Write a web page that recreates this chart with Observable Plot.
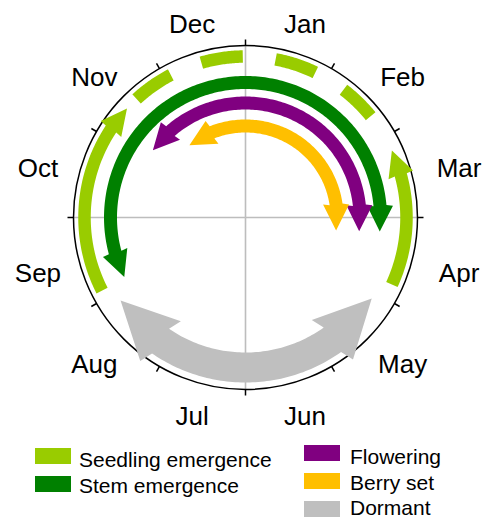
<!DOCTYPE html>
<html><head><meta charset="utf-8">
<script src="https://cdn.jsdelivr.net/npm/d3@7"></script>
<script src="https://cdn.jsdelivr.net/npm/@observablehq/plot@0.6"></script>
<style>
body{margin:0;background:#fff;font-family:"Liberation Sans",Arial,sans-serif;}
#wrap{position:relative;width:485px;height:521px;}
#chart{position:absolute;left:0;top:0;}
.col{position:absolute;}
.sw{width:36px;height:16px;margin-bottom:12px;}
.lab{font-size:21px;line-height:18px;height:25.5px;white-space:nowrap;color:#000;}
</style></head><body>
<div id="wrap"><div id="chart"></div>
<div class="col" id="swL" style="left:35px;top:448px"></div><div class="col" id="labL" style="left:79px;top:451px"></div>
<div class="col" id="swR" style="left:304px;top:445px"></div><div class="col" id="labR" style="left:350px;top:448px"></div>
</div>
<script>
// ---- data (month units: 0 = 1 Jan, 1 = 1 Feb, ... values > 12 continue into the next year) ----
const months = ["Jan","Feb","Mar","Apr","May","Jun","Jul","Aug","Sep","Oct","Nov","Dec"];
const phases = ["Seedling emergence","Stem emergence","Flowering","Berry set","Dormant"];
const phaseColors = ["#99cc00","#008000","#800080","#ffbf00","#bfbfbf"];
const legendLeft = ["Seedling emergence","Stem emergence"];
const legendRight = ["Flowering","Berry set","Dormant"];

const arrowPhase = ["Dormant","Seedling emergence","Seedling emergence","Stem emergence","Flowering","Berry set"];
const arrowStart = [4.09, 8.10, 3.82, 8.13, 10.20, 10.74];
const arrowEnd   = [7.88, 10.42, 2.18, 15.20, 15.23, 15.27];
const arrowBothHeads = [true, false, false, true, true, true];

const dashedPhase = ["Seedling emergence"];
const dashedStart = [10.58];
const dashedEnd = [13.70];

const gridMonths = [0, 3, 6, 9];

// ---- styling ----
const W = 485, H = 440, CX = 245, CY = 217;
const R = 172;
const LABEL_A = 218, LABEL_B = 203; // label ellipse semi-axes (px)
const ring = {"Seedling emergence": 161, "Stem emergence": 135, "Flowering": 114.5, "Berry set": 91.5, "Dormant": 150};
const bandW = {"Seedling emergence": 12.5, "Stem emergence": 13, "Flowering": 13, "Berry set": 13, "Dormant": 30};
const headW = {"Seedling emergence": 26, "Stem emergence": 26, "Flowering": 26, "Berry set": 26, "Dormant": 57};
const headL = {"Seedling emergence": 26, "Stem emergence": 26, "Flowering": 26, "Berry set": 26, "Dormant": 57};
const colorOf = Object.fromEntries(phases.map((p, i) => [p, phaseColors[i]]));

const deg = m => m * 30;
const rad = t => t * Math.PI / 180;
const P = (r, t) => [r * Math.sin(rad(t)), r * Math.cos(rad(t))];

function arrowPolygon(phase, m0, m1, both) {
  const r = ring[phase], w = bandW[phase], hw = headW[phase], hl = headL[phase];
  const t0 = deg(m0), t1 = deg(m1);
  const dir = Math.sign(t1 - t0);
  const dth = 2 * Math.asin(hl / (2 * r)) * 180 / Math.PI;
  const a0 = both ? t0 + dir * dth : t0;
  const a1 = t1 - dir * dth;
  const head = (tBack, tTip) => {
    const b = P(r, tBack), tip = P(r, tTip);
    let ux = tip[0] - b[0], uy = tip[1] - b[1];
    const L = Math.hypot(ux, uy); ux /= L; uy /= L;
    const nx = -uy, ny = ux;
    const c1 = [b[0] + nx * hw / 2, b[1] + ny * hw / 2];
    const c2 = [b[0] - nx * hw / 2, b[1] - ny * hw / 2];
    const outer = Math.hypot(...c1) > Math.hypot(...c2) ? c1 : c2;
    const inner = outer === c1 ? c2 : c1;
    return {tip, outer, inner};
  };
  const n = Math.max(2, Math.ceil(Math.abs(a1 - a0)));
  const pts = [];
  if (both) { const h = head(a0, t0); pts.push(h.inner, h.tip, h.outer); }
  for (let i = 0; i <= n; i++) pts.push(P(r + w / 2, a0 + (a1 - a0) * i / n));
  const he = head(a1, t1); pts.push(he.outer, he.tip, he.inner);
  for (let i = n; i >= 0; i--) pts.push(P(r - w / 2, a0 + (a1 - a0) * i / n));
  return pts.map(([x, y]) => ({x, y}));
}

const marks = [];
// grid lines
marks.push(Plot.link(gridMonths, {
  x1: () => 0, y1: () => 0,
  x2: m => P(R, deg(m))[0], y2: m => P(R, deg(m))[1],
  stroke: "#bdbdbd", strokeWidth: 1.6
}));
// outer circle
marks.push(Plot.dot([{x: 0, y: 0}], {x: "x", y: "y", r: R, stroke: "#000", fill: "none", strokeWidth: 1.5}));
// ticks at month boundaries
marks.push(Plot.link(d3.range(12), {
  x1: m => P(R, deg(m))[0], y1: m => P(R, deg(m))[1],
  x2: m => P(R + 6, deg(m))[0], y2: m => P(R + 6, deg(m))[1],
  stroke: "#000", strokeWidth: 1.5
}));
// dashed arc
dashedPhase.forEach((p, i) => {
  const t0 = deg(dashedStart[i]), t1 = deg(dashedEnd[i]);
  const n = Math.ceil(Math.abs(t1 - t0) * 2);
  const pts = d3.range(n + 1).map(k => { const [x, y] = P(ring[p], t0 + (t1 - t0) * k / n); return {x, y}; });
  marks.push(Plot.line(pts, {x: "x", y: "y", stroke: colorOf[p], strokeWidth: bandW[p], strokeDasharray: "42,33", strokeLinecap: "butt"}));
});
// arrows
arrowPhase.forEach((p, i) => {
  marks.push(Plot.line(arrowPolygon(p, arrowStart[i], arrowEnd[i], arrowBothHeads[i]),
    {x: "x", y: "y", fill: colorOf[p], stroke: "none"}));
});
// month labels (centred mid-month, on an ellipse around the dial)
marks.push(Plot.text(months, {
  x: (d, i) => LABEL_A * Math.sin(rad((i + 0.5) * 30)),
  y: (d, i) => LABEL_B * Math.cos(rad((i + 0.5) * 30)),
  text: d => d, fontSize: 26, fill: "#000", dx: 3, dy: 3.5
}));

const chart = Plot.plot({
  width: W, height: H,
  marginTop: 0, marginBottom: 0, marginLeft: 0, marginRight: 0,
  x: {domain: [-CX, W - CX], axis: null},
  y: {domain: [CY - H, CY], axis: null},
  style: {fontFamily: "'Liberation Sans', Arial, sans-serif", background: "#fff", overflow: "visible"},
  marks
});
document.getElementById("chart").appendChild(chart);

function fillLegend(swId, labId, names) {
  const swEl = document.getElementById(swId), labEl = document.getElementById(labId);
  names.forEach(n => {
    const sw = document.createElement("div"); sw.className = "sw"; sw.style.background = colorOf[n];
    const lab = document.createElement("div"); lab.className = "lab"; lab.textContent = n;
    swEl.appendChild(sw); labEl.appendChild(lab);
  });
}
fillLegend("swL", "labL", legendLeft);
fillLegend("swR", "labR", legendRight);
</script>
</body></html>
